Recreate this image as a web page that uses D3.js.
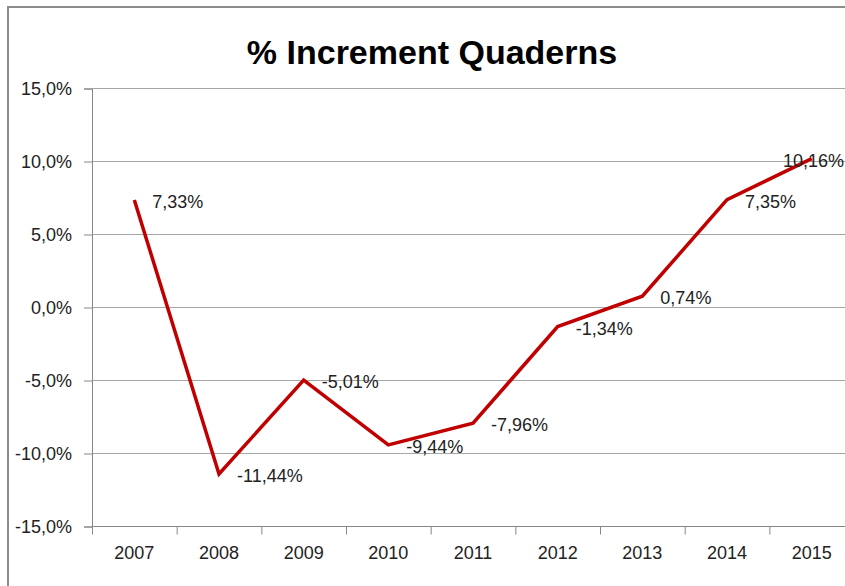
<!DOCTYPE html>
<html>
<head>
<meta charset="utf-8">
<script src="https://cdn.jsdelivr.net/npm/d3@7"></script>
<style>
  body { margin: 0; background: #fff; }
  svg { display: block; font-family: "Liberation Sans", Arial, sans-serif; }
</style>
</head>
<body>
<div id="chart"></div>
<script>
// data
var years = ["2007", "2008", "2009", "2010", "2011", "2012", "2013", "2014", "2015"];
var increments = [7.33, -11.44, -5.01, -9.44, -7.96, -1.34, 0.74, 7.35, 10.16];
var yTicks = [-15, -10, -5, 0, 5, 10, 15];
var title = "% Increment Quaderns";

var W = 845, H = 586;
var margin = {top: 88, left: 92, bottom: 60};

var svg = d3.select("#chart").append("svg")
  .attr("width", W)
  .attr("height", H);

// outer chart border (right and bottom cropped off)
svg.append("rect")
  .attr("x", 8).attr("y", 7)
  .attr("width", W + 20).attr("height", H + 20)
  .attr("fill", "none")
  .attr("stroke", "#8c8c8c")
  .attr("stroke-width", 2);

svg.append("text")
  .attr("x", 432).attr("y", 64)
  .attr("text-anchor", "middle")
  .attr("font-weight", "bold")
  .attr("font-size", "34px")
  .attr("fill", "#000")
  .text(title);

var x = d3.scaleBand()
  .domain(years)
  .range([margin.left, margin.left + 9 * 84.67]);

var y = d3.scaleLinear()
  .domain([-15, 15])
  .range([526, 88]);

// gridlines
svg.append("g")
  .selectAll("line")
  .data(yTicks)
  .enter().append("line")
    .attr("x1", margin.left).attr("x2", W)
    .attr("y1", function(d) { return y(d) + 0.5; })
    .attr("y2", function(d) { return y(d) + 0.5; })
    .attr("stroke", "#a6a6a6")
    .attr("stroke-width", 1.2);

var fmt = function(d) { return d.toFixed(1).replace(".", ",") + "%"; };

// y axis
var yAxis = svg.append("g")
  .attr("transform", "translate(" + margin.left + ",0.5)")
  .call(d3.axisLeft(y).tickValues(yTicks).tickFormat(fmt).tickSize(8).tickPadding(12));
yAxis.select(".domain").attr("stroke", "#868686");
yAxis.selectAll(".tick line").attr("stroke", "#868686");
yAxis.selectAll("text")
  .attr("font-size", "18px")
  .attr("font-family", "Liberation Sans, Arial, sans-serif")
  .attr("fill", "#222");

// x axis with ticks between categories
var xAxis = svg.append("g")
  .attr("transform", "translate(0," + (y(-15) + 0.5) + ")")
  .call(d3.axisBottom(x).tickSize(0).tickPadding(20));
xAxis.select(".domain").attr("stroke", "#868686").attr("d", "M" + margin.left + ",0H" + W);
xAxis.selectAll("text")
  .attr("font-size", "18px")
  .attr("font-family", "Liberation Sans, Arial, sans-serif")
  .attr("fill", "#222");
xAxis.selectAll(".sep")
  .data(years)
  .enter().append("line")
    .attr("class", "sep")
    .attr("x1", function(d) { return x(d) + 0.5; })
    .attr("x2", function(d) { return x(d) + 0.5; })
    .attr("y1", 0).attr("y2", 8)
    .attr("stroke", "#868686");

var pts = years.map(function(d, i) { return {year: d, v: increments[i]}; });

var line = d3.line()
  .x(function(d) { return x(d.year) + x.bandwidth() / 2; })
  .y(function(d) { return y(d.v); });

svg.append("path")
  .datum(pts)
  .attr("d", line)
  .attr("fill", "none")
  .attr("stroke", "#c00000")
  .attr("stroke-width", 3.5)
  .attr("stroke-linejoin", "miter");

// data labels
svg.append("g")
  .selectAll("text")
  .data(pts)
  .enter().append("text")
    .attr("x", function(d, i) {
      return i == pts.length - 1 ? W - 1 : x(d.year) + x.bandwidth() / 2 + 18;
    })
    .attr("y", function(d) { return y(d.v) + 8; })
    .attr("text-anchor", function(d, i) { return i == pts.length - 1 ? "end" : "start"; })
    .attr("font-size", "18px")
    .attr("fill", "#222")
    .text(function(d) { return d.v.toFixed(2).replace(".", ",") + "%"; });
</script>
</body>
</html>
